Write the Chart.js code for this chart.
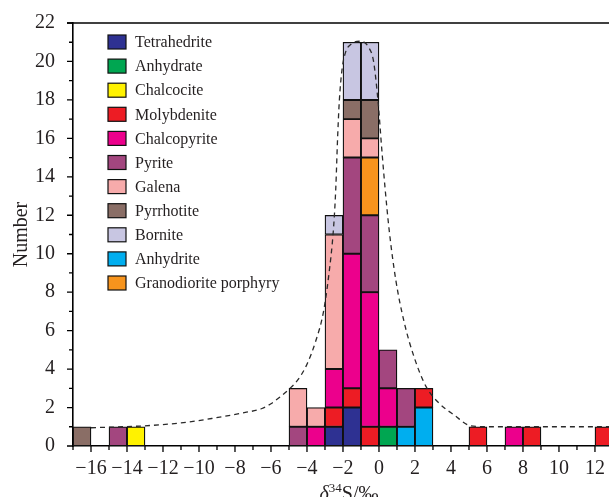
<!DOCTYPE html>
<html>
<head>
<meta charset="utf-8">
<script src="https://cdn.jsdelivr.net/npm/chart.js@4.4.0/dist/chart.umd.min.js"></script>
<style>
  html, body { margin: 0; padding: 0; background: #fff; }
  #wrap { width: 609px; height: 497px; }
</style>
</head>
<body>
<div id="wrap"><canvas id="c" width="609" height="497"></canvas></div>
<script>
/* ── Dados ─────────────────────────────────────────────── */
const _ = null;
// centros das classes (largura 1‰)
const binCenters   = [-16.5, -14.5, -13.5, -4.5, -3.5, -2.5, -1.5, -0.5, 0.5, 1.5, 2.5, 5.5, 7.5, 8.5, 12.5];
const tetrahedrite = [_, _, _, _, _, 1, 2, _, _, _, _, _, _, _, _];
const anhydrate    = [_, _, _, _, _, _, _, _, 1, _, _, _, _, _, _];
const anhydrite    = [_, _, _, _, _, _, _, _, _, 1, 2, _, _, _, _];
const chalcocite   = [_, _, 1, _, _, _, _, _, _, _, _, _, _, _, _];
const molybdenite  = [_, _, _, _, _, 1, 1, 1, _, _, 1, 1, _, 1, 1];
const chalcopyrite = [_, _, _, _, 1, 2, 7, 7, 2, _, _, _, 1, _, _];
const pyrite       = [_, 1, _, 1, _, _, 5, 4, 2, 2, _, _, _, _, _];
const granodiorite = [_, _, _, _, _, _, _, 3, _, _, _, _, _, _, _];
const galena       = [_, _, _, 2, 1, 7, 2, 1, _, _, _, _, _, _, _];
const pyrrhotite   = [1, _, _, _, _, _, 1, 2, _, _, _, _, _, _, _];
const bornite      = [_, _, _, _, _, 1, 3, 3, _, _, _, _, _, _, _];

// curva tracejada
const curveX = [-16, -13, -11, -9.3, -7.7, -6.5, -6.0, -5.5, -5.0, -4.5, -4.0, -3.5, -3.1, -2.8, -2.52, -2.4, -2.3, -2.2, -2.05, -1.85, -1.55, -1.05, -0.55, -0.3, -0.05, 0.15, 0.33, 0.57, 0.94, 1.41, 1.96, 2.61, 3.26, 4.19, 5.1, 6.0, 12.8];
const curveY = [0.95, 1.05, 1.2, 1.43, 1.7, 1.95, 2.2, 2.55, 2.95, 3.45, 4.25, 5.5, 6.9, 8.8, 11.4, 13.4, 16.0, 18.0, 19.6, 20.5, 20.9, 21.05, 20.7, 20.0, 17.9, 15.5, 13.5, 11.2, 8.6, 6.4, 4.6, 3.1, 2.3, 1.6, 1.05, 1.0, 1.0];

const legendOrder = ['Tetrahedrite', 'Anhydrate', 'Chalcocite', 'Molybdenite', 'Chalcopyrite', 'Pyrite',
                     'Galena', 'Pyrrhotite', 'Bornite', 'Anhydrite', 'Granodiorite porphyry'];

/* ── Estilo ────────────────────────────────────────────── */
const CORES = {
  'Tetrahedrite': '#2e3192', 'Anhydrate': '#00a651', 'Anhydrite': '#00aeef', 'Chalcocite': '#fff200',
  'Molybdenite': '#ed1c24', 'Chalcopyrite': '#ec008c', 'Pyrite': '#a3467f', 'Granodiorite porphyry': '#f7941d',
  'Galena': '#f7abab', 'Pyrrhotite': '#8a6e66', 'Bornite': '#c8c6e2'
};
const SERIF = '"Liberation Serif", "Times New Roman", serif';
const TXT = '#231f20';

// ordem de empilhamento (de baixo para cima)
const stackOrder = [
  ['Tetrahedrite', tetrahedrite], ['Anhydrate', anhydrate], ['Anhydrite', anhydrite], ['Chalcocite', chalcocite],
  ['Molybdenite', molybdenite], ['Chalcopyrite', chalcopyrite], ['Pyrite', pyrite],
  ['Granodiorite porphyry', granodiorite], ['Galena', galena], ['Pyrrhotite', pyrrhotite], ['Bornite', bornite]
];

const barSets = stackOrder.map(([nome, vals]) => ({
  label: nome,
  data: binCenters.map((x, i) => ({ x, y: vals[i] })).filter(p => p.y != null),
  backgroundColor: CORES[nome],
  borderColor: '#111',
  borderWidth: 1.3,
  borderSkipped: false,
  barPercentage: 1,
  categoryPercentage: 1,
  stack: 'minerais',
  order: 1
}));

const curveSet = {
  type: 'line',
  label: 'curva',
  data: curveX.map((x, i) => ({ x, y: curveY[i] })),
  borderColor: '#2a2a2a',
  borderWidth: 1.3,
  borderDash: [5, 4],
  pointRadius: 0,
  fill: false,
  cubicInterpolationMode: 'monotone',
  stack: 'curva',
  order: 0
};

/* ── Plugins ───────────────────────────────────────────── */
const ticksPlugin = {
  id: 'ticksPlugin',
  afterDraw(chart) {
    const { ctx, chartArea: a, scales: { x, y } } = chart;
    ctx.save();
    ctx.strokeStyle = '#000';
    ctx.lineWidth = 1.3;
    ctx.beginPath();
    x.ticks.forEach(t => {
      const px = x.getPixelForValue(t.value);
      const len = t.value % 2 === 0 ? 6 : 4;
      ctx.moveTo(px, a.bottom); ctx.lineTo(px, a.bottom + len);
    });
    y.ticks.forEach(t => {
      const py = y.getPixelForValue(t.value);
      const len = t.value % 2 === 0 ? 6 : 4;
      ctx.moveTo(a.left, py); ctx.lineTo(a.left - len, py);
    });
    ctx.stroke();
    // moldura superior
    ctx.lineWidth = 1.6;
    ctx.beginPath();
    ctx.moveTo(a.left - 6, a.top); ctx.lineTo(a.right, a.top);
    ctx.stroke();
    ctx.restore();
  }
};

const legendPlugin = {
  id: 'legendPlugin',
  afterDraw(chart) {
    const { ctx } = chart;
    ctx.save();
    ctx.font = `16px ${SERIF}`;
    ctx.textBaseline = 'middle';
    legendOrder.forEach((nome, i) => {
      const yy = 42 + i * 24.1;
      ctx.fillStyle = CORES[nome];
      ctx.fillRect(108, yy - 7, 18, 14);
      ctx.strokeStyle = '#111';
      ctx.lineWidth = 1.2;
      ctx.strokeRect(108, yy - 7, 18, 14);
      ctx.fillStyle = TXT;
      ctx.fillText(nome, 135, yy + 1);
    });
    ctx.restore();
  }
};

const xTitlePlugin = {
  id: 'xTitlePlugin',
  afterDraw(chart) {
    const { ctx } = chart;
    ctx.save();
    ctx.fillStyle = TXT;
    ctx.textBaseline = 'alphabetic';
    const fIt = `italic 20px ${SERIF}`, fSup = `13px ${SERIF}`, fReg = `20px ${SERIF}`;
    const partes = [['δ', fIt, 0], ['34', fSup, -8], ['S/‰', fReg, 0]];
    let w = 0;
    partes.forEach(p => { ctx.font = p[1]; w += ctx.measureText(p[0]).width; });
    let xx = 349 - w / 2;
    const base = 500;
    partes.forEach(p => { ctx.font = p[1]; ctx.fillText(p[0], xx, base + p[2]); xx += ctx.measureText(p[0]).width; });
    ctx.restore();
  }
};

const fmtTick = v => (v % 2 !== 0 ? '' : v < 0 ? '\u2212' + Math.abs(v) : String(v));

/* ── Gráfico ───────────────────────────────────────────── */
new Chart(document.getElementById('c'), {
  type: 'bar',
  data: { datasets: [...barSets, curveSet] },
  options: {
    responsive: false,
    animation: false,
    layout: { padding: { top: 23, right: 0, left: 0, bottom: 0 } },
    plugins: { legend: { display: false }, tooltip: { enabled: false } },
    scales: {
      x: {
        type: 'linear', min: -17, max: 12.78, offset: false,
        grid: { display: false },
        border: { display: true, color: '#000', width: 1.6 },
        ticks: {
          stepSize: 1, autoSkip: false, maxRotation: 0, includeBounds: false,
          padding: 3, color: TXT, font: { family: SERIF, size: 20 },
          callback: fmtTick
        },
        afterFit: s => { s.height = 51; }
      },
      y: {
        stacked: true, min: 0, max: 22,
        grid: { display: false },
        border: { display: true, color: '#000', width: 1.6 },
        ticks: {
          stepSize: 1, autoSkip: false, padding: 10, color: TXT,
          font: { family: SERIF, size: 20 },
          callback: fmtTick
        },
        title: { display: true, text: 'Number', color: TXT, font: { family: SERIF, size: 20 }, padding: { top: 10, bottom: 0 } },
        afterFit: s => { s.width = 73; }
      }
    }
  },
  plugins: [ticksPlugin, legendPlugin, xTitlePlugin]
});
</script>
</body>
</html>
